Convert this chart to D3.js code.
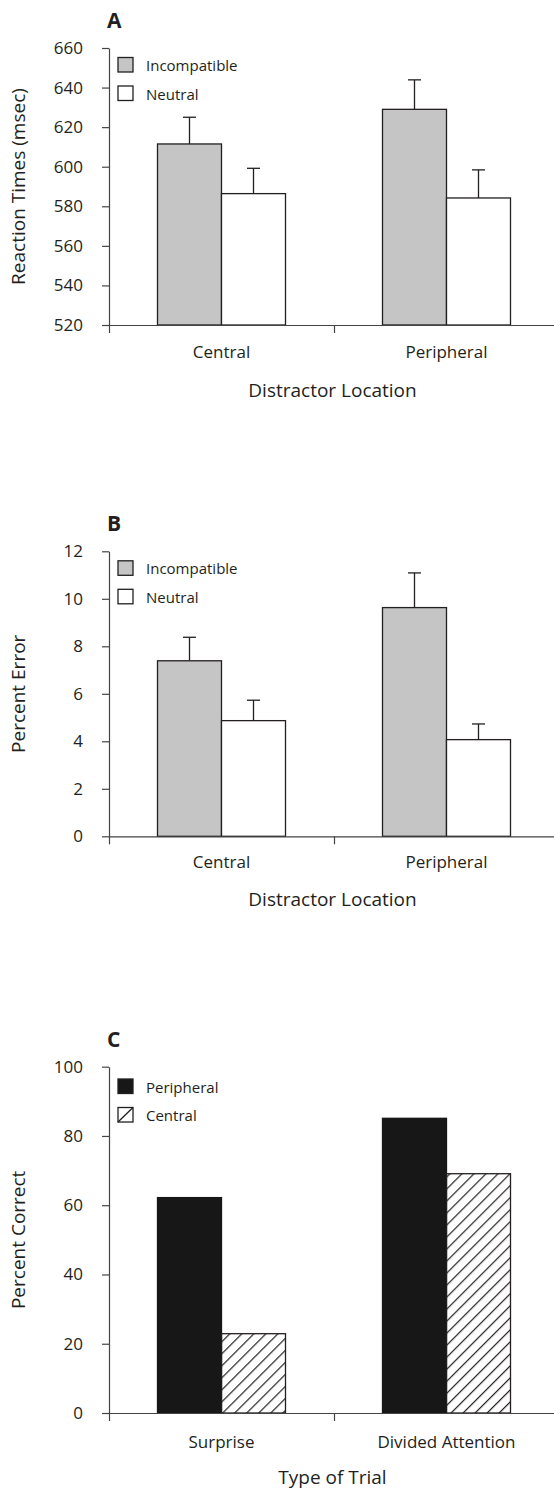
<!DOCTYPE html>
<html>
<head>
<meta charset="utf-8">
<script src="https://cdn.jsdelivr.net/npm/d3@7"></script>
<style>
  body { margin: 0; background: #fff; }
  text { font-family: "Open Sans", sans-serif; fill: #231f20; }
</style>
</head>
<body>
<div id="chart"></div>
<script>
// panel A - reaction times
var rtCategories = ["Central", "Peripheral"];
var rtSeries = ["Incompatible", "Neutral"];
var rtIncompatible = [611.5, 629];
var rtNeutral = [586.4, 584.2];
var rtIncompatibleErr = [13.5, 14.9];
var rtNeutralErr = [12.8, 14.2];
var rtTicks = [520, 540, 560, 580, 600, 620, 640, 660];

// panel B - percent error
var errCategories = ["Central", "Peripheral"];
var errSeries = ["Incompatible", "Neutral"];
var errIncompatible = [7.39, 9.63];
var errNeutral = [4.87, 4.07];
var errIncompatibleErr = [0.99, 1.46];
var errNeutralErr = [0.86, 0.66];
var errTicks = [0, 2, 4, 6, 8, 10, 12];

// panel C - percent correct
var trialCategories = ["Surprise", "Divided Attention"];
var trialSeries = ["Peripheral", "Central"];
var correctPeripheral = [62.2, 85.1];
var correctCentral = [22.9, 69.1];
var correctTicks = [0, 20, 40, 60, 80, 100];

var W = 554, H = 1490;
var x0 = 109, x1 = 559, barW = 64;
var ink = "#231f20";

var svg = d3.select("#chart").append("svg")
  .attr("width", W)
  .attr("height", H);

var defs = svg.append("defs");
defs.append("pattern")
  .attr("id", "hatch")
  .attr("patternUnits", "userSpaceOnUse")
  .attr("width", 8.5)
  .attr("height", 8.5)
  .attr("patternTransform", "rotate(45)")
  .append("line")
  .attr("x1", 0).attr("y1", 0)
  .attr("x2", 0).attr("y2", 8.5)
  .attr("stroke", ink)
  .attr("stroke-width", 2.4);

function panel(opt) {
  var g = svg.append("g");

  var x = d3.scaleBand()
    .domain(opt.categories)
    .range([x0, x1])
    .padding(0);

  var xs = d3.scaleBand()
    .domain(opt.series)
    .range([x.bandwidth() / 2 - barW, x.bandwidth() / 2 + barW]);

  var y = d3.scaleLinear()
    .domain(opt.domain)
    .range([opt.bottom, opt.top]);

  // bars
  opt.series.forEach(function (s, si) {
    var vals = opt.values[si];
    var errs = opt.errors ? opt.errors[si] : null;
    opt.categories.forEach(function (c, ci) {
      var bx = x(c) + xs(s);
      g.append("rect")
        .attr("x", bx)
        .attr("y", y(vals[ci]))
        .attr("width", xs.bandwidth())
        .attr("height", y(opt.domain[0]) - y(vals[ci]))
        .attr("fill", opt.fills[si])
        .attr("stroke", opt.strokes[si])
        .attr("stroke-width", 1.3);
      if (errs) {
        var cx = bx + xs.bandwidth() / 2;
        var top = y(vals[ci] + errs[ci]);
        g.append("line")
          .attr("x1", cx).attr("x2", cx)
          .attr("y1", y(vals[ci])).attr("y2", top)
          .attr("stroke", ink).attr("stroke-width", 1.3);
        g.append("line")
          .attr("x1", cx - 6.5).attr("x2", cx + 6.5)
          .attr("y1", top).attr("y2", top)
          .attr("stroke", ink).attr("stroke-width", 1.3);
      }
    });
  });

  // y axis
  var yAxis = g.append("g")
    .attr("transform", "translate(" + x0 + ",0)")
    .call(d3.axisLeft(y).tickValues(opt.ticks).tickSize(7).tickSizeOuter(0).tickPadding(19));
  yAxis.select(".domain").attr("stroke", "#444").attr("stroke-width", 1.2);
  yAxis.selectAll(".tick line").attr("stroke", "#444").attr("stroke-width", 1.2);
  yAxis.selectAll(".tick text")
    .attr("font-size", 17)
    .attr("font-family", "Open Sans")
    .attr("fill", ink);

  // x axis: ticks sit on the band edges, labels in the middle
  var edges = [x0].concat(opt.categories.map(function (c) { return x(c) + x.bandwidth(); }));
  var xAxis = g.append("g")
    .attr("transform", "translate(0," + opt.bottom + ")")
    .call(d3.axisBottom(d3.scaleLinear().domain([x0, x1]).range([x0, x1]))
      .tickValues(edges).tickSize(8).tickSizeOuter(0).tickFormat(""));
  xAxis.select(".domain").attr("stroke", "#444").attr("stroke-width", 1.2);
  xAxis.selectAll(".tick line").attr("stroke", "#444").attr("stroke-width", 1.2);

  g.selectAll(".cat")
    .data(opt.categories)
    .enter().append("text")
    .attr("x", function (d) { return x(d) + x.bandwidth() / 2; })
    .attr("y", opt.bottom + opt.catOffset)
    .attr("text-anchor", "middle")
    .attr("dominant-baseline", "central")
    .attr("font-size", 17)
    .text(function (d) { return d; });

  g.append("text")
    .attr("x", 332.5)
    .attr("y", opt.bottom + opt.titleOffset)
    .attr("text-anchor", "middle")
    .attr("dominant-baseline", "central")
    .attr("font-size", 19)
    .text(opt.xTitle);

  g.append("text")
    .attr("transform", "translate(18," + ((opt.top + opt.bottom) / 2) + ") rotate(-90)")
    .attr("text-anchor", "middle")
    .attr("dominant-baseline", "central")
    .attr("font-size", 19)
    .text(opt.yTitle);

  g.append("text")
    .attr("x", 107)
    .attr("y", opt.top - 20)
    .attr("font-size", 21)
    .attr("font-weight", "bold")
    .text(opt.letter);

  // legend
  opt.series.forEach(function (s, si) {
    var ly = opt.top + opt.legendOffset + si * 28.5;
    g.append("rect")
      .attr("x", 118).attr("y", ly)
      .attr("width", 15).attr("height", 14.5)
      .attr("fill", opt.legendFills[si])
      .attr("stroke", ink)
      .attr("stroke-width", 1.3);
    if (opt.legendFills[si] === "none") {
      g.append("line")
        .attr("x1", 118).attr("y1", ly + 14.5)
        .attr("x2", 133).attr("y2", ly)
        .attr("stroke", ink).attr("stroke-width", 1.3);
    }
    g.append("text")
      .attr("x", 146)
      .attr("y", ly + 7.5)
      .attr("dominant-baseline", "central")
      .attr("font-size", 15)
      .text(s);
  });
}

panel({
  letter: "A",
  categories: rtCategories,
  series: rtSeries,
  values: [rtIncompatible, rtNeutral],
  errors: [rtIncompatibleErr, rtNeutralErr],
  domain: [520, 660],
  ticks: rtTicks,
  top: 48, bottom: 325,
  fills: ["#c4c5c4", "#fff"],
  strokes: [ink, ink],
  legendFills: ["#c4c5c4", "#fff"],
  legendOffset: 9.5,
  catOffset: 26, titleOffset: 64.5,
  xTitle: "Distractor Location",
  yTitle: "Reaction Times (msec)"
});

panel({
  letter: "B",
  categories: errCategories,
  series: errSeries,
  values: [errIncompatible, errNeutral],
  errors: [errIncompatibleErr, errNeutralErr],
  domain: [0, 12],
  ticks: errTicks,
  top: 551.3, bottom: 836.3,
  fills: ["#c4c5c4", "#fff"],
  strokes: [ink, ink],
  legendFills: ["#c4c5c4", "#fff"],
  legendOffset: 9.5,
  catOffset: 25, titleOffset: 63,
  xTitle: "Distractor Location",
  yTitle: "Percent Error"
});

panel({
  letter: "C",
  categories: trialCategories,
  series: trialSeries,
  values: [correctPeripheral, correctCentral],
  errors: null,
  domain: [0, 100],
  ticks: correctTicks,
  top: 1066.7, bottom: 1413,
  fills: ["#171717", "url(#hatch)"],
  strokes: ["#171717", ink],
  legendFills: ["#171717", "none"],
  legendOffset: 12.3,
  catOffset: 28.5, titleOffset: 63.5,
  xTitle: "Type of Trial",
  yTitle: "Percent Correct"
});
</script>
</body>
</html>
